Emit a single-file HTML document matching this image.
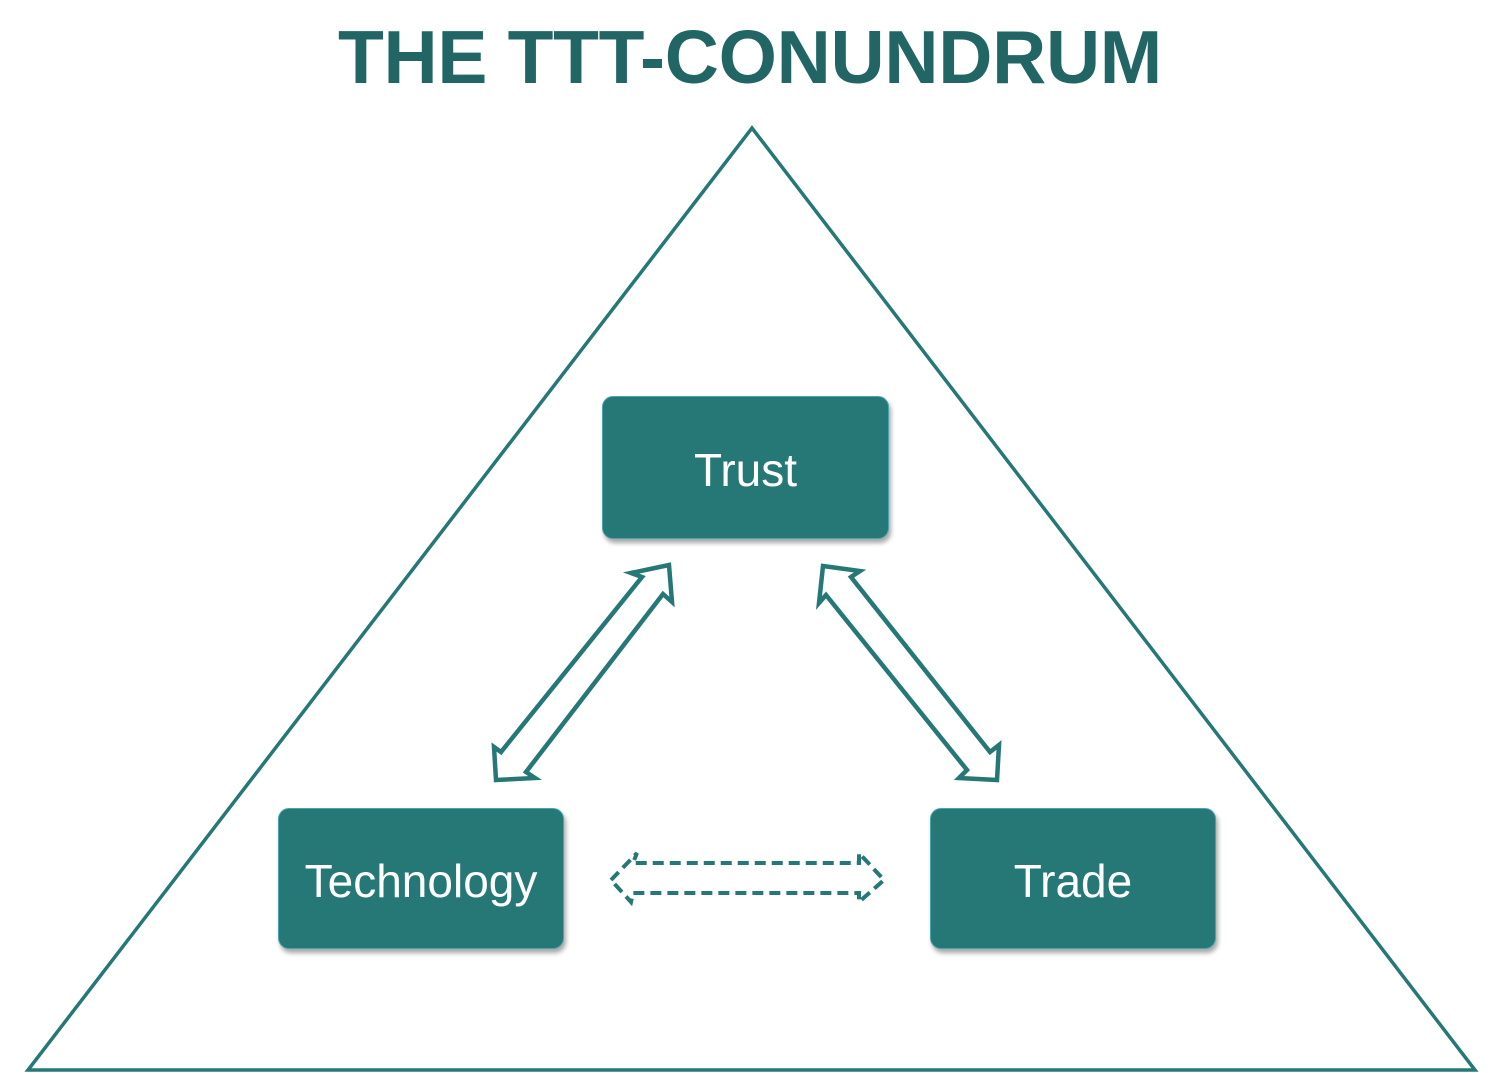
<!DOCTYPE html>
<html><head><meta charset="utf-8"><style>
html,body{margin:0;padding:0;background:#fff;}
body{width:1500px;height:1073px;position:relative;overflow:hidden;font-family:"Liberation Sans",sans-serif;}
.title{position:absolute;left:0;width:1500px;top:14px;text-align:center;font-weight:bold;font-size:75px;color:#216665;line-height:86px;letter-spacing:-0.3px;}
.box{position:absolute;background:#267877;border:1.5px solid #4aa3b0;border-radius:11px;box-shadow:2px 4px 5px rgba(0,0,0,0.35);color:#fff;font-size:46px;display:flex;align-items:center;justify-content:center;box-sizing:border-box;}
</style></head><body>
<svg width="1500" height="1073" style="position:absolute;left:0;top:0">
<polygon points="752,128 28,1070 1475,1070" fill="none" stroke="#267877" stroke-width="3.5" stroke-linejoin="miter"/>
<g fill="none" stroke="#267877" stroke-width="4.5" stroke-linejoin="miter">
<polygon points="669,565 672,602 663,594 526,772 535,778 496,780 494,747 501,752 642,577 631,573"/>
<polygon points="823,566 860,571 851,577 990,752 999,745 997,780 959,778 967,770 826,595 819,603"/>
<polygon points="611,880 637,853 633,863 859,863 859,853 884,880 859,902 859,893 633,893 631,902" stroke-dasharray="11,6" stroke-width="4"/>
</g>
</svg>
<div class="title">THE TTT-CONUNDRUM</div>
<div class="box" style="left:602px;top:396px;width:287px;height:143px;padding-top:4px">Trust</div>
<div class="box" style="left:278px;top:808px;width:286px;height:141px;padding-top:4px">Technology</div>
<div class="box" style="left:930px;top:808px;width:286px;height:141px;padding-top:4px">Trade</div>
</body></html>
